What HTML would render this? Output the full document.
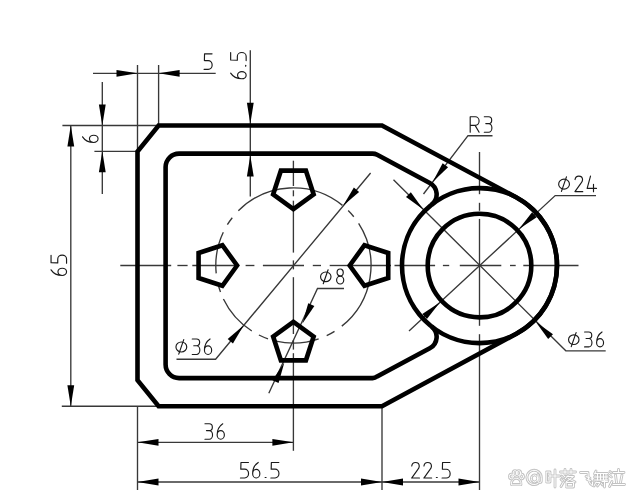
<!DOCTYPE html><html><head><meta charset="utf-8"><style>html,body{margin:0;padding:0;background:#fff;width:638px;height:500px;overflow:hidden;font-family:"Liberation Sans",sans-serif}svg{display:block}</style></head><body><svg width="638" height="500" viewBox="0 0 638 500"><rect width="638" height="500" fill="#fff"/><g stroke="#383838" stroke-width="1.35" fill="none"><line x1="93.00" y1="73.30" x2="215.70" y2="73.30" /><line x1="137.50" y1="65.00" x2="137.50" y2="151.50" /><line x1="158.60" y1="65.00" x2="158.60" y2="125.50" /><line x1="102.30" y1="82.00" x2="102.30" y2="194.00" /><line x1="62.40" y1="125.50" x2="158.60" y2="125.50" /><line x1="94.40" y1="151.30" x2="137.50" y2="151.30" /><line x1="70.80" y1="125.50" x2="70.80" y2="406.20" /><line x1="61.80" y1="406.20" x2="158.60" y2="406.20" /><line x1="250.30" y1="50.20" x2="250.30" y2="196.40" /><line x1="137.50" y1="406.20" x2="137.50" y2="490.00" /><line x1="137.40" y1="442.30" x2="293.40" y2="442.30" /><line x1="137.40" y1="482.00" x2="479.50" y2="482.00" /><line x1="382.00" y1="406.20" x2="382.00" y2="490.00" /><line x1="479.50" y1="152.00" x2="479.50" y2="194.20" /><line x1="479.50" y1="202.80" x2="479.50" y2="210.80" /><line x1="479.50" y1="218.90" x2="479.50" y2="325.80" /><line x1="479.50" y1="334.20" x2="479.50" y2="490.00" /><line x1="293.40" y1="160.70" x2="293.40" y2="186.00" /><line x1="293.40" y1="190.30" x2="293.40" y2="196.30" /><line x1="293.40" y1="200.70" x2="293.40" y2="252.60" /><line x1="293.40" y1="260.40" x2="293.40" y2="269.40" /><line x1="293.40" y1="277.20" x2="293.40" y2="334.00" /><line x1="293.40" y1="340.00" x2="293.40" y2="349.60" /><line x1="293.40" y1="353.20" x2="293.40" y2="450.80" /><line x1="120.30" y1="265.50" x2="171.20" y2="265.50" /><line x1="177.40" y1="265.50" x2="187.60" y2="265.50" /><line x1="192.30" y1="265.50" x2="238.00" y2="265.50" /><line x1="245.60" y1="265.50" x2="254.40" y2="265.50" /><line x1="262.90" y1="265.50" x2="304.00" y2="265.50" /><line x1="312.80" y1="265.50" x2="321.00" y2="265.50" /><line x1="329.70" y1="265.50" x2="350.00" y2="265.50" /><line x1="352.00" y1="265.50" x2="391.00" y2="265.50" /><line x1="394.50" y1="265.50" x2="435.10" y2="265.50" /><line x1="442.90" y1="265.50" x2="449.20" y2="265.50" /><line x1="459.80" y1="265.50" x2="501.30" y2="265.50" /><line x1="510.00" y1="265.50" x2="515.70" y2="265.50" /><line x1="523.30" y1="265.50" x2="578.50" y2="265.50" /><polyline points="176.5,359.2 215.6,359.2 370.6,173" fill="none"/><polyline points="344,288.5 317.5,288.5 268.8,393.3" fill="none"/><polyline points="393.5,179.7 565.8,350.8 605.7,350.8" fill="none"/><polyline points="409,331 555.2,195.6 596,195.6" fill="none"/><polyline points="492.5,135.7 468,135.7 423.5,194" fill="none"/><path d="M238.34,210.82 A77.60,77.60 0 0 1 342.45,205.36"/><path d="M348.18,210.53 A77.60,77.60 0 0 1 353.79,216.77"/><path d="M358.63,223.46 A77.60,77.60 0 0 1 341.81,326.15"/><path d="M334.52,331.31 A77.60,77.60 0 0 1 326.69,335.60"/><path d="M318.66,338.87 A77.60,77.60 0 0 1 275.94,341.11"/><path d="M268.01,338.83 A77.60,77.60 0 0 1 258.90,335.01"/><path d="M251.82,331.02 A77.60,77.60 0 0 1 223.42,299.03"/><path d="M220.48,292.04 A77.60,77.60 0 0 1 218.11,284.27"/><path d="M216.20,273.34 A77.60,77.60 0 0 1 223.30,232.21"/><path d="M227.38,224.72 A77.60,77.60 0 0 1 232.25,217.72"/></g><path d="M137.50,73.30 L116.50,76.70 L116.50,69.90 Z" fill="#000" stroke="none"/><path d="M158.60,73.30 L179.60,69.90 L179.60,76.70 Z" fill="#000" stroke="none"/><path d="M102.30,125.50 L98.90,104.50 L105.70,104.50 Z" fill="#000" stroke="none"/><path d="M102.30,151.30 L105.70,172.30 L98.90,172.30 Z" fill="#000" stroke="none"/><path d="M70.80,125.50 L74.20,146.50 L67.40,146.50 Z" fill="#000" stroke="none"/><path d="M70.80,406.20 L67.40,385.20 L74.20,385.20 Z" fill="#000" stroke="none"/><path d="M250.30,123.70 L246.90,102.70 L253.70,102.70 Z" fill="#000" stroke="none"/><path d="M250.30,155.40 L253.70,176.40 L246.90,176.40 Z" fill="#000" stroke="none"/><path d="M137.50,442.30 L158.50,438.90 L158.50,445.70 Z" fill="#000" stroke="none"/><path d="M293.40,442.30 L272.40,445.70 L272.40,438.90 Z" fill="#000" stroke="none"/><path d="M137.50,482.00 L158.50,478.60 L158.50,485.40 Z" fill="#000" stroke="none"/><path d="M382.00,482.00 L361.00,485.40 L361.00,478.60 Z" fill="#000" stroke="none"/><path d="M382.00,482.00 L403.00,478.60 L403.00,485.40 Z" fill="#000" stroke="none"/><path d="M479.50,482.00 L458.50,485.40 L458.50,478.60 Z" fill="#000" stroke="none"/><path d="M243.75,325.14 L232.93,343.46 L227.70,339.10 Z" fill="#000" stroke="none"/><path d="M343.05,205.86 L353.87,187.54 L359.10,191.90 Z" fill="#000" stroke="none"/><path d="M302.46,323.60 L308.23,303.13 L314.39,305.99 Z" fill="#000" stroke="none"/><path d="M284.34,362.60 L278.57,383.07 L272.41,380.21 Z" fill="#000" stroke="none"/><path d="M423.29,209.39 L406.03,196.94 L410.84,192.13 Z" fill="#000" stroke="none"/><path d="M535.71,321.81 L552.97,334.26 L548.16,339.07 Z" fill="#000" stroke="none"/><path d="M518.97,229.04 L532.07,212.28 L536.69,217.27 Z" fill="#000" stroke="none"/><path d="M440.03,302.16 L426.93,318.92 L422.31,313.93 Z" fill="#000" stroke="none"/><path d="M432.62,181.92 L442.66,163.16 L448.07,167.29 Z" fill="#000" stroke="none"/><g stroke="#000" stroke-width="4.6" fill="none" stroke-linejoin="miter"><path d="M158.6,125.50 L382.00,125.50 L516.08,197.27 A77.50,77.50 0 0 1 516.27,333.82 L382.00,406.20 L158.6,406.20 L137.50,380.20 L137.50,151.5 Z"/><path d="M165.60,364.60 L165.60,167.10 A13.50,13.50 0 0 1 179.10,153.60 L372.44,153.60 A10.00,10.00 0 0 1 377.16,154.78 L429.77,182.94 A13.00,13.00 0 0 1 431.66,204.63 M431.66,326.57 A13.00,13.00 0 0 1 429.77,348.26 L377.16,376.42 A10.00,10.00 0 0 1 372.44,378.10 L179.10,378.10 A13.50,13.50 0 0 1 165.60,364.60"/><circle cx="479.50" cy="265.60" r="77.50"/><circle cx="479.50" cy="265.60" r="51.80"/><polygon points="293.40,209.20 273.14,194.48 280.88,170.67 305.92,170.67 313.66,194.48"/><polygon points="293.40,321.80 313.66,336.52 305.92,360.33 280.88,360.33 273.14,336.52"/><polygon points="237.10,265.50 222.38,285.76 198.57,278.02 198.57,252.98 222.38,245.24"/><polygon points="349.70,265.50 364.42,245.24 388.23,252.98 388.23,278.02 364.42,285.76"/></g><g transform="translate(204.05,53.85) rotate(0)" fill="none" stroke="#1a1a1a" stroke-width="1.15" stroke-linecap="round" stroke-linejoin="round"><g transform="translate(0.00,0) scale(1.0000)" stroke-width="1.150"><path d="M8.0,0 H0.5 L0.35,6.7 H4.2 A3.9,4.4 0 0 1 4.2,15.5 H0"/></g></g><g transform="translate(230.65,78.75) rotate(-90)" fill="none" stroke="#1a1a1a" stroke-width="1.15" stroke-linecap="round" stroke-linejoin="round"><g transform="translate(0.00,0) scale(1.0000)" stroke-width="1.150"><path d="M5.6,0 C2.1,2.3 0,5.8 0,11.2 A3.6,4.3 0 1 0 7.2,11.2 A3.6,4.3 0 1 0 0,11.2"/></g><g transform="translate(12.20,0) scale(1.0000)" stroke-width="1.150"><path d="M0.3,15 h0.9"/></g><g transform="translate(18.20,0) scale(1.0000)" stroke-width="1.150"><path d="M8.0,0 H0.5 L0.35,6.7 H4.2 A3.9,4.4 0 0 1 4.2,15.5 H0"/></g></g><g transform="translate(82.55,142.45) rotate(-90)" fill="none" stroke="#1a1a1a" stroke-width="1.15" stroke-linecap="round" stroke-linejoin="round"><g transform="translate(0.00,0) scale(1.0000)" stroke-width="1.150"><path d="M5.6,0 C2.1,2.3 0,5.8 0,11.2 A3.6,4.3 0 1 0 7.2,11.2 A3.6,4.3 0 1 0 0,11.2"/></g></g><g transform="translate(51.05,275.45) rotate(-90)" fill="none" stroke="#1a1a1a" stroke-width="1.15" stroke-linecap="round" stroke-linejoin="round"><g transform="translate(0.00,0) scale(1.0000)" stroke-width="1.150"><path d="M5.6,0 C2.1,2.3 0,5.8 0,11.2 A3.6,4.3 0 1 0 7.2,11.2 A3.6,4.3 0 1 0 0,11.2"/></g><g transform="translate(12.20,0) scale(1.0000)" stroke-width="1.150"><path d="M8.0,0 H0.5 L0.35,6.7 H4.2 A3.9,4.4 0 0 1 4.2,15.5 H0"/></g></g><g transform="translate(204.95,423.75) rotate(0)" fill="none" stroke="#1a1a1a" stroke-width="1.15" stroke-linecap="round" stroke-linejoin="round"><g transform="translate(0.00,0) scale(1.0000)" stroke-width="1.150"><path d="M0,0 H4.3 A3.1,3.4 0 0 1 4.3,6.8 H1.5 M4.3,6.8 A3.3,4.35 0 0 1 4.3,15.5 H0"/></g><g transform="translate(12.20,0) scale(1.0000)" stroke-width="1.150"><path d="M5.6,0 C2.1,2.3 0,5.8 0,11.2 A3.6,4.3 0 1 0 7.2,11.2 A3.6,4.3 0 1 0 0,11.2"/></g></g><g transform="translate(240.45,462.45) rotate(0)" fill="none" stroke="#1a1a1a" stroke-width="1.15" stroke-linecap="round" stroke-linejoin="round"><g transform="translate(0.00,0) scale(1.0000)" stroke-width="1.150"><path d="M8.0,0 H0.5 L0.35,6.7 H4.2 A3.9,4.4 0 0 1 4.2,15.5 H0"/></g><g transform="translate(12.20,0) scale(1.0000)" stroke-width="1.150"><path d="M5.6,0 C2.1,2.3 0,5.8 0,11.2 A3.6,4.3 0 1 0 7.2,11.2 A3.6,4.3 0 1 0 0,11.2"/></g><g transform="translate(24.40,0) scale(1.0000)" stroke-width="1.150"><path d="M0.3,15 h0.9"/></g><g transform="translate(30.40,0) scale(1.0000)" stroke-width="1.150"><path d="M8.0,0 H0.5 L0.35,6.7 H4.2 A3.9,4.4 0 0 1 4.2,15.5 H0"/></g></g><g transform="translate(411.65,462.55) rotate(0)" fill="none" stroke="#1a1a1a" stroke-width="1.15" stroke-linecap="round" stroke-linejoin="round"><g transform="translate(0.00,0) scale(1.0000)" stroke-width="1.150"><path d="M0.1,3.4 C0.4,1.1 2,0 3.8,0 C5.9,0 7.6,1.5 7.6,3.7 C7.6,5.2 6.8,6.3 5.9,7.3 L0,15.5 H7.8"/></g><g transform="translate(12.20,0) scale(1.0000)" stroke-width="1.150"><path d="M0.1,3.4 C0.4,1.1 2,0 3.8,0 C5.9,0 7.6,1.5 7.6,3.7 C7.6,5.2 6.8,6.3 5.9,7.3 L0,15.5 H7.8"/></g><g transform="translate(24.40,0) scale(1.0000)" stroke-width="1.150"><path d="M0.3,15 h0.9"/></g><g transform="translate(30.40,0) scale(1.0000)" stroke-width="1.150"><path d="M8.0,0 H0.5 L0.35,6.7 H4.2 A3.9,4.4 0 0 1 4.2,15.5 H0"/></g></g><g transform="translate(470.20,116.75) rotate(0)" fill="none" stroke="#1a1a1a" stroke-width="1.15" stroke-linecap="round" stroke-linejoin="round"><g transform="translate(0.00,0) scale(1.0000)" stroke-width="1.150"><path d="M0,15.5 V0 H5.1 A3.8,4.3 0 0 1 5.1,8.6 H0 M4.9,8.6 L8.9,15.5"/></g><g transform="translate(14.10,0) scale(1.0000)" stroke-width="1.150"><path d="M0,0 H4.3 A3.1,3.4 0 0 1 4.3,6.8 H1.5 M4.3,6.8 A3.3,4.35 0 0 1 4.3,15.5 H0"/></g></g><g transform="translate(558.65,176.15) rotate(0)" fill="none" stroke="#1a1a1a" stroke-width="1.15" stroke-linecap="round" stroke-linejoin="round"><g transform="translate(0.00,0) scale(1.0000)" stroke-width="1.150"><ellipse cx="5.4" cy="8" rx="5.4" ry="5.0"/><path d="M7.8,0.7 L2.8,15.2"/></g><g transform="translate(16.30,0) scale(1.0000)" stroke-width="1.150"><path d="M0.1,3.4 C0.4,1.1 2,0 3.8,0 C5.9,0 7.6,1.5 7.6,3.7 C7.6,5.2 6.8,6.3 5.9,7.3 L0,15.5 H7.8"/></g><g transform="translate(28.50,0) scale(1.0000)" stroke-width="1.150"><path d="M3.35,0 L0,12.25 H9.35 M6.35,8.15 V15.5"/></g></g><g transform="translate(568.55,331.95) rotate(0)" fill="none" stroke="#1a1a1a" stroke-width="1.15" stroke-linecap="round" stroke-linejoin="round"><g transform="translate(0.00,0) scale(0.9677)" stroke-width="1.188"><ellipse cx="5.4" cy="8" rx="5.4" ry="5.0"/><path d="M7.8,0.7 L2.8,15.2"/></g><g transform="translate(16.04,0) scale(0.9677)" stroke-width="1.188"><path d="M0,0 H4.3 A3.1,3.4 0 0 1 4.3,6.8 H1.5 M4.3,6.8 A3.3,4.35 0 0 1 4.3,15.5 H0"/></g><g transform="translate(28.04,0) scale(0.9677)" stroke-width="1.188"><path d="M5.6,0 C2.1,2.3 0,5.8 0,11.2 A3.6,4.3 0 1 0 7.2,11.2 A3.6,4.3 0 1 0 0,11.2"/></g></g><g transform="translate(175.95,338.95) rotate(0)" fill="none" stroke="#1a1a1a" stroke-width="1.15" stroke-linecap="round" stroke-linejoin="round"><g transform="translate(0.00,0) scale(1.0000)" stroke-width="1.150"><ellipse cx="5.4" cy="8" rx="5.4" ry="5.0"/><path d="M7.8,0.7 L2.8,15.2"/></g><g transform="translate(16.30,0) scale(1.0000)" stroke-width="1.150"><path d="M0,0 H4.3 A3.1,3.4 0 0 1 4.3,6.8 H1.5 M4.3,6.8 A3.3,4.35 0 0 1 4.3,15.5 H0"/></g><g transform="translate(28.50,0) scale(1.0000)" stroke-width="1.150"><path d="M5.6,0 C2.1,2.3 0,5.8 0,11.2 A3.6,4.3 0 1 0 7.2,11.2 A3.6,4.3 0 1 0 0,11.2"/></g></g><g transform="translate(320.55,269.05) rotate(0)" fill="none" stroke="#1a1a1a" stroke-width="1.15" stroke-linecap="round" stroke-linejoin="round"><g transform="translate(0.00,0) scale(0.9677)" stroke-width="1.188"><ellipse cx="5.4" cy="8" rx="5.4" ry="5.0"/><path d="M7.8,0.7 L2.8,15.2"/></g><g transform="translate(16.04,0) scale(0.9677)" stroke-width="1.188"><ellipse cx="3.7" cy="3.6" rx="3.2" ry="3.6"/><ellipse cx="3.7" cy="11.4" rx="3.7" ry="4.1"/></g></g><g fill="none" stroke="#c2c2c2" stroke-width="2.8" stroke-linejoin="round" stroke-linecap="round"><ellipse cx="511.3" cy="476.5" rx="1.9" ry="2.4"/><ellipse cx="515" cy="473" rx="1.9" ry="2.4"/><ellipse cx="518.8" cy="473" rx="1.9" ry="2.4"/><ellipse cx="521.6" cy="476.5" rx="1.9" ry="2.4"/><path d="M511.5,484.5 C511,480 514,478.3 516.2,478.3 C518.5,478.3 521.5,480 521,484.5 Z"/><path d="M538,483.5 A7.2,7.2 0 1 1 541.3,477.5 V481 A1.6,1.6 0 0 1 538,481 V474.5 M537.8,478.5 A3.2,3.5 0 1 1 537.8,478.4"/><path d="M546.6,472 H550 V482 H546.6 Z M549.5,476 H559.5 M555,470 V487"/><path d="M560.5,472 H575.5 M565,469.5 V474.5 M571,469.5 V474.5 M561.5,476 L563,477.5 M561,479.5 L562.8,481 M561,486.5 L563.5,482 M568,475.5 L565,479 M567,476.5 H573.5 L566,482 M568,478.5 L575,482 M566.5,482.5 H573.5 V487 H566.5 Z"/><path d="M580.5,472.5 H588 Q588,484 592.5,485.5 V482 M586,476.5 L590,478 M587,479.5 L590.5,480.5"/><path d="M596,471 L594.5,474 M595,473.5 H607.5 M594.5,477 H608 M597.5,473.5 V480 M600.5,473.5 V480 M603.5,473.5 V480 M606,473.5 V480 M594.5,480 H608 M596,482 L594,486 M596.5,482.5 H600 L597.5,486 M602,481.5 H607.5 M604.5,480.5 V487 M601.5,483.5 L602.5,485"/><path d="M610,471.5 L611.5,473 M609.5,475.5 L611.5,477 M609.5,486.5 L612,481.5 M618.5,469.5 V472 M613.5,472.5 H624 M615.5,475 L616.5,482.5 M622,475 L620.5,482.5 M613,484.5 H624.5"/></g><g fill="none" stroke="#ffffff" stroke-width="1.0" stroke-linejoin="round" stroke-linecap="round"><ellipse cx="511.3" cy="476.5" rx="1.9" ry="2.4"/><ellipse cx="515" cy="473" rx="1.9" ry="2.4"/><ellipse cx="518.8" cy="473" rx="1.9" ry="2.4"/><ellipse cx="521.6" cy="476.5" rx="1.9" ry="2.4"/><path d="M511.5,484.5 C511,480 514,478.3 516.2,478.3 C518.5,478.3 521.5,480 521,484.5 Z"/><path d="M538,483.5 A7.2,7.2 0 1 1 541.3,477.5 V481 A1.6,1.6 0 0 1 538,481 V474.5 M537.8,478.5 A3.2,3.5 0 1 1 537.8,478.4"/><path d="M546.6,472 H550 V482 H546.6 Z M549.5,476 H559.5 M555,470 V487"/><path d="M560.5,472 H575.5 M565,469.5 V474.5 M571,469.5 V474.5 M561.5,476 L563,477.5 M561,479.5 L562.8,481 M561,486.5 L563.5,482 M568,475.5 L565,479 M567,476.5 H573.5 L566,482 M568,478.5 L575,482 M566.5,482.5 H573.5 V487 H566.5 Z"/><path d="M580.5,472.5 H588 Q588,484 592.5,485.5 V482 M586,476.5 L590,478 M587,479.5 L590.5,480.5"/><path d="M596,471 L594.5,474 M595,473.5 H607.5 M594.5,477 H608 M597.5,473.5 V480 M600.5,473.5 V480 M603.5,473.5 V480 M606,473.5 V480 M594.5,480 H608 M596,482 L594,486 M596.5,482.5 H600 L597.5,486 M602,481.5 H607.5 M604.5,480.5 V487 M601.5,483.5 L602.5,485"/><path d="M610,471.5 L611.5,473 M609.5,475.5 L611.5,477 M609.5,486.5 L612,481.5 M618.5,469.5 V472 M613.5,472.5 H624 M615.5,475 L616.5,482.5 M622,475 L620.5,482.5 M613,484.5 H624.5"/></g></svg></body></html>
